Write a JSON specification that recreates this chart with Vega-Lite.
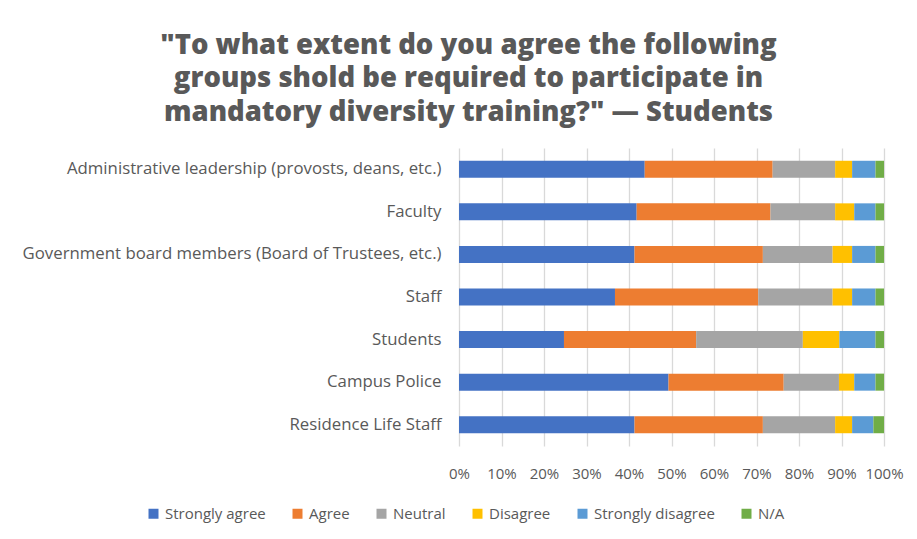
{
  "$schema": "https://vega.github.io/schema/vega-lite/v6.json",
  "width": 425,
  "height": 298,
  "autosize": {"type": "none"},
  "padding": {"left": 459, "top": 148, "right": 33, "bottom": 93},
  "background": "white",
  "title": {
    "text": ["\"To what extent do you agree the following", "groups shold be required to participate in", "mandatory diversity training?\" — Students"],
    "font": "Open Sans",
    "fontSize": 27.5,
    "fontWeight": 800,
    "color": "#595959",
    "lineHeight": 33.5,
    "anchor": "middle",
    "frame": "group",
    "dx": -203,
    "offset": 22
  },
  "data": {
    "values": [
      {"group": "Administrative leadership (provosts, deans, etc.)", "response": "Strongly agree", "o": 1, "value": 43.7},
      {"group": "Administrative leadership (provosts, deans, etc.)", "response": "Agree", "o": 2, "value": 30.1},
      {"group": "Administrative leadership (provosts, deans, etc.)", "response": "Neutral", "o": 3, "value": 14.7},
      {"group": "Administrative leadership (provosts, deans, etc.)", "response": "Disagree", "o": 4, "value": 4.0},
      {"group": "Administrative leadership (provosts, deans, etc.)", "response": "Strongly disagree", "o": 5, "value": 5.5},
      {"group": "Administrative leadership (provosts, deans, etc.)", "response": "N/A", "o": 6, "value": 2.0},
      {"group": "Faculty", "response": "Strongly agree", "o": 1, "value": 41.8},
      {"group": "Faculty", "response": "Agree", "o": 2, "value": 31.5},
      {"group": "Faculty", "response": "Neutral", "o": 3, "value": 15.2},
      {"group": "Faculty", "response": "Disagree", "o": 4, "value": 4.5},
      {"group": "Faculty", "response": "Strongly disagree", "o": 5, "value": 5.0},
      {"group": "Faculty", "response": "N/A", "o": 6, "value": 2.0},
      {"group": "Government board members (Board of Trustees, etc.)", "response": "Strongly agree", "o": 1, "value": 41.3},
      {"group": "Government board members (Board of Trustees, etc.)", "response": "Agree", "o": 2, "value": 30.2},
      {"group": "Government board members (Board of Trustees, etc.)", "response": "Neutral", "o": 3, "value": 16.4},
      {"group": "Government board members (Board of Trustees, etc.)", "response": "Disagree", "o": 4, "value": 4.6},
      {"group": "Government board members (Board of Trustees, etc.)", "response": "Strongly disagree", "o": 5, "value": 5.5},
      {"group": "Government board members (Board of Trustees, etc.)", "response": "N/A", "o": 6, "value": 2.0},
      {"group": "Staff", "response": "Strongly agree", "o": 1, "value": 36.7},
      {"group": "Staff", "response": "Agree", "o": 2, "value": 33.7},
      {"group": "Staff", "response": "Neutral", "o": 3, "value": 17.5},
      {"group": "Staff", "response": "Disagree", "o": 4, "value": 4.6},
      {"group": "Staff", "response": "Strongly disagree", "o": 5, "value": 5.5},
      {"group": "Staff", "response": "N/A", "o": 6, "value": 2.0},
      {"group": "Students", "response": "Strongly agree", "o": 1, "value": 24.7},
      {"group": "Students", "response": "Agree", "o": 2, "value": 31.1},
      {"group": "Students", "response": "Neutral", "o": 3, "value": 25.1},
      {"group": "Students", "response": "Disagree", "o": 4, "value": 8.6},
      {"group": "Students", "response": "Strongly disagree", "o": 5, "value": 8.5},
      {"group": "Students", "response": "N/A", "o": 6, "value": 2.0},
      {"group": "Campus Police", "response": "Strongly agree", "o": 1, "value": 49.3},
      {"group": "Campus Police", "response": "Agree", "o": 2, "value": 27.1},
      {"group": "Campus Police", "response": "Neutral", "o": 3, "value": 13.0},
      {"group": "Campus Police", "response": "Disagree", "o": 4, "value": 3.6},
      {"group": "Campus Police", "response": "Strongly disagree", "o": 5, "value": 5.0},
      {"group": "Campus Police", "response": "N/A", "o": 6, "value": 2.0},
      {"group": "Residence Life Staff", "response": "Strongly agree", "o": 1, "value": 41.3},
      {"group": "Residence Life Staff", "response": "Agree", "o": 2, "value": 30.2},
      {"group": "Residence Life Staff", "response": "Neutral", "o": 3, "value": 17.0},
      {"group": "Residence Life Staff", "response": "Disagree", "o": 4, "value": 4.0},
      {"group": "Residence Life Staff", "response": "Strongly disagree", "o": 5, "value": 5.0},
      {"group": "Residence Life Staff", "response": "N/A", "o": 6, "value": 2.5}
    ]
  },
  "mark": {"type": "bar"},
  "encoding": {
    "y": {
      "field": "group",
      "type": "nominal",
      "sort": ["Administrative leadership (provosts, deans, etc.)", "Faculty", "Government board members (Board of Trustees, etc.)", "Staff", "Students", "Campus Police", "Residence Life Staff"],
      "scale": {"paddingInner": 0.6, "paddingOuter": 0.3},
      "axis": {
        "title": null,
        "ticks": false,
        "domain": false,
        "labelPadding": 18,
        "labelFont": "Open Sans",
        "labelFontSize": 16.8,
        "labelColor": "#595959",
        "labelLimit": 500
      }
    },
    "x": {
      "field": "value",
      "type": "quantitative",
      "stack": "zero",
      "scale": {"domain": [0, 100], "nice": false},
      "axis": {
        "title": null,
        "values": [0, 10, 20, 30, 40, 50, 60, 70, 80, 90, 100],
        "labelExpr": "datum.value + '%'",
        "ticks": false,
        "domain": false,
        "grid": true,
        "gridColor": "#d9d9d9",
        "gridWidth": 1.3,
        "labelPadding": 20,
        "labelFont": "Open Sans",
        "labelFontSize": 15,
        "labelColor": "#595959",
        "labelFlush": false
      }
    },
    "color": {
      "field": "response",
      "type": "nominal",
      "sort": ["Strongly agree", "Agree", "Neutral", "Disagree", "Strongly disagree", "N/A"],
      "scale": {
        "domain": ["Strongly agree", "Agree", "Neutral", "Disagree", "Strongly disagree", "N/A"],
        "range": ["#4472C4", "#ED7D31", "#A5A5A5", "#FFC000", "#5B9BD5", "#70AD47"]
      },
      "legend": {
        "title": null,
        "orient": "none",
        "direction": "horizontal",
        "legendX": -313,
        "legendY": 358,
        "symbolType": "square",
        "symbolSize": 100,
        "symbolStrokeWidth": 0,
        "labelFont": "Open Sans",
        "labelFontSize": 15,
        "labelColor": "#595959",
        "labelOffset": 4,
        "columnPadding": 24
      }
    },
    "order": {"field": "o", "type": "quantitative"}
  },
  "config": {"view": {"stroke": null}}
}
